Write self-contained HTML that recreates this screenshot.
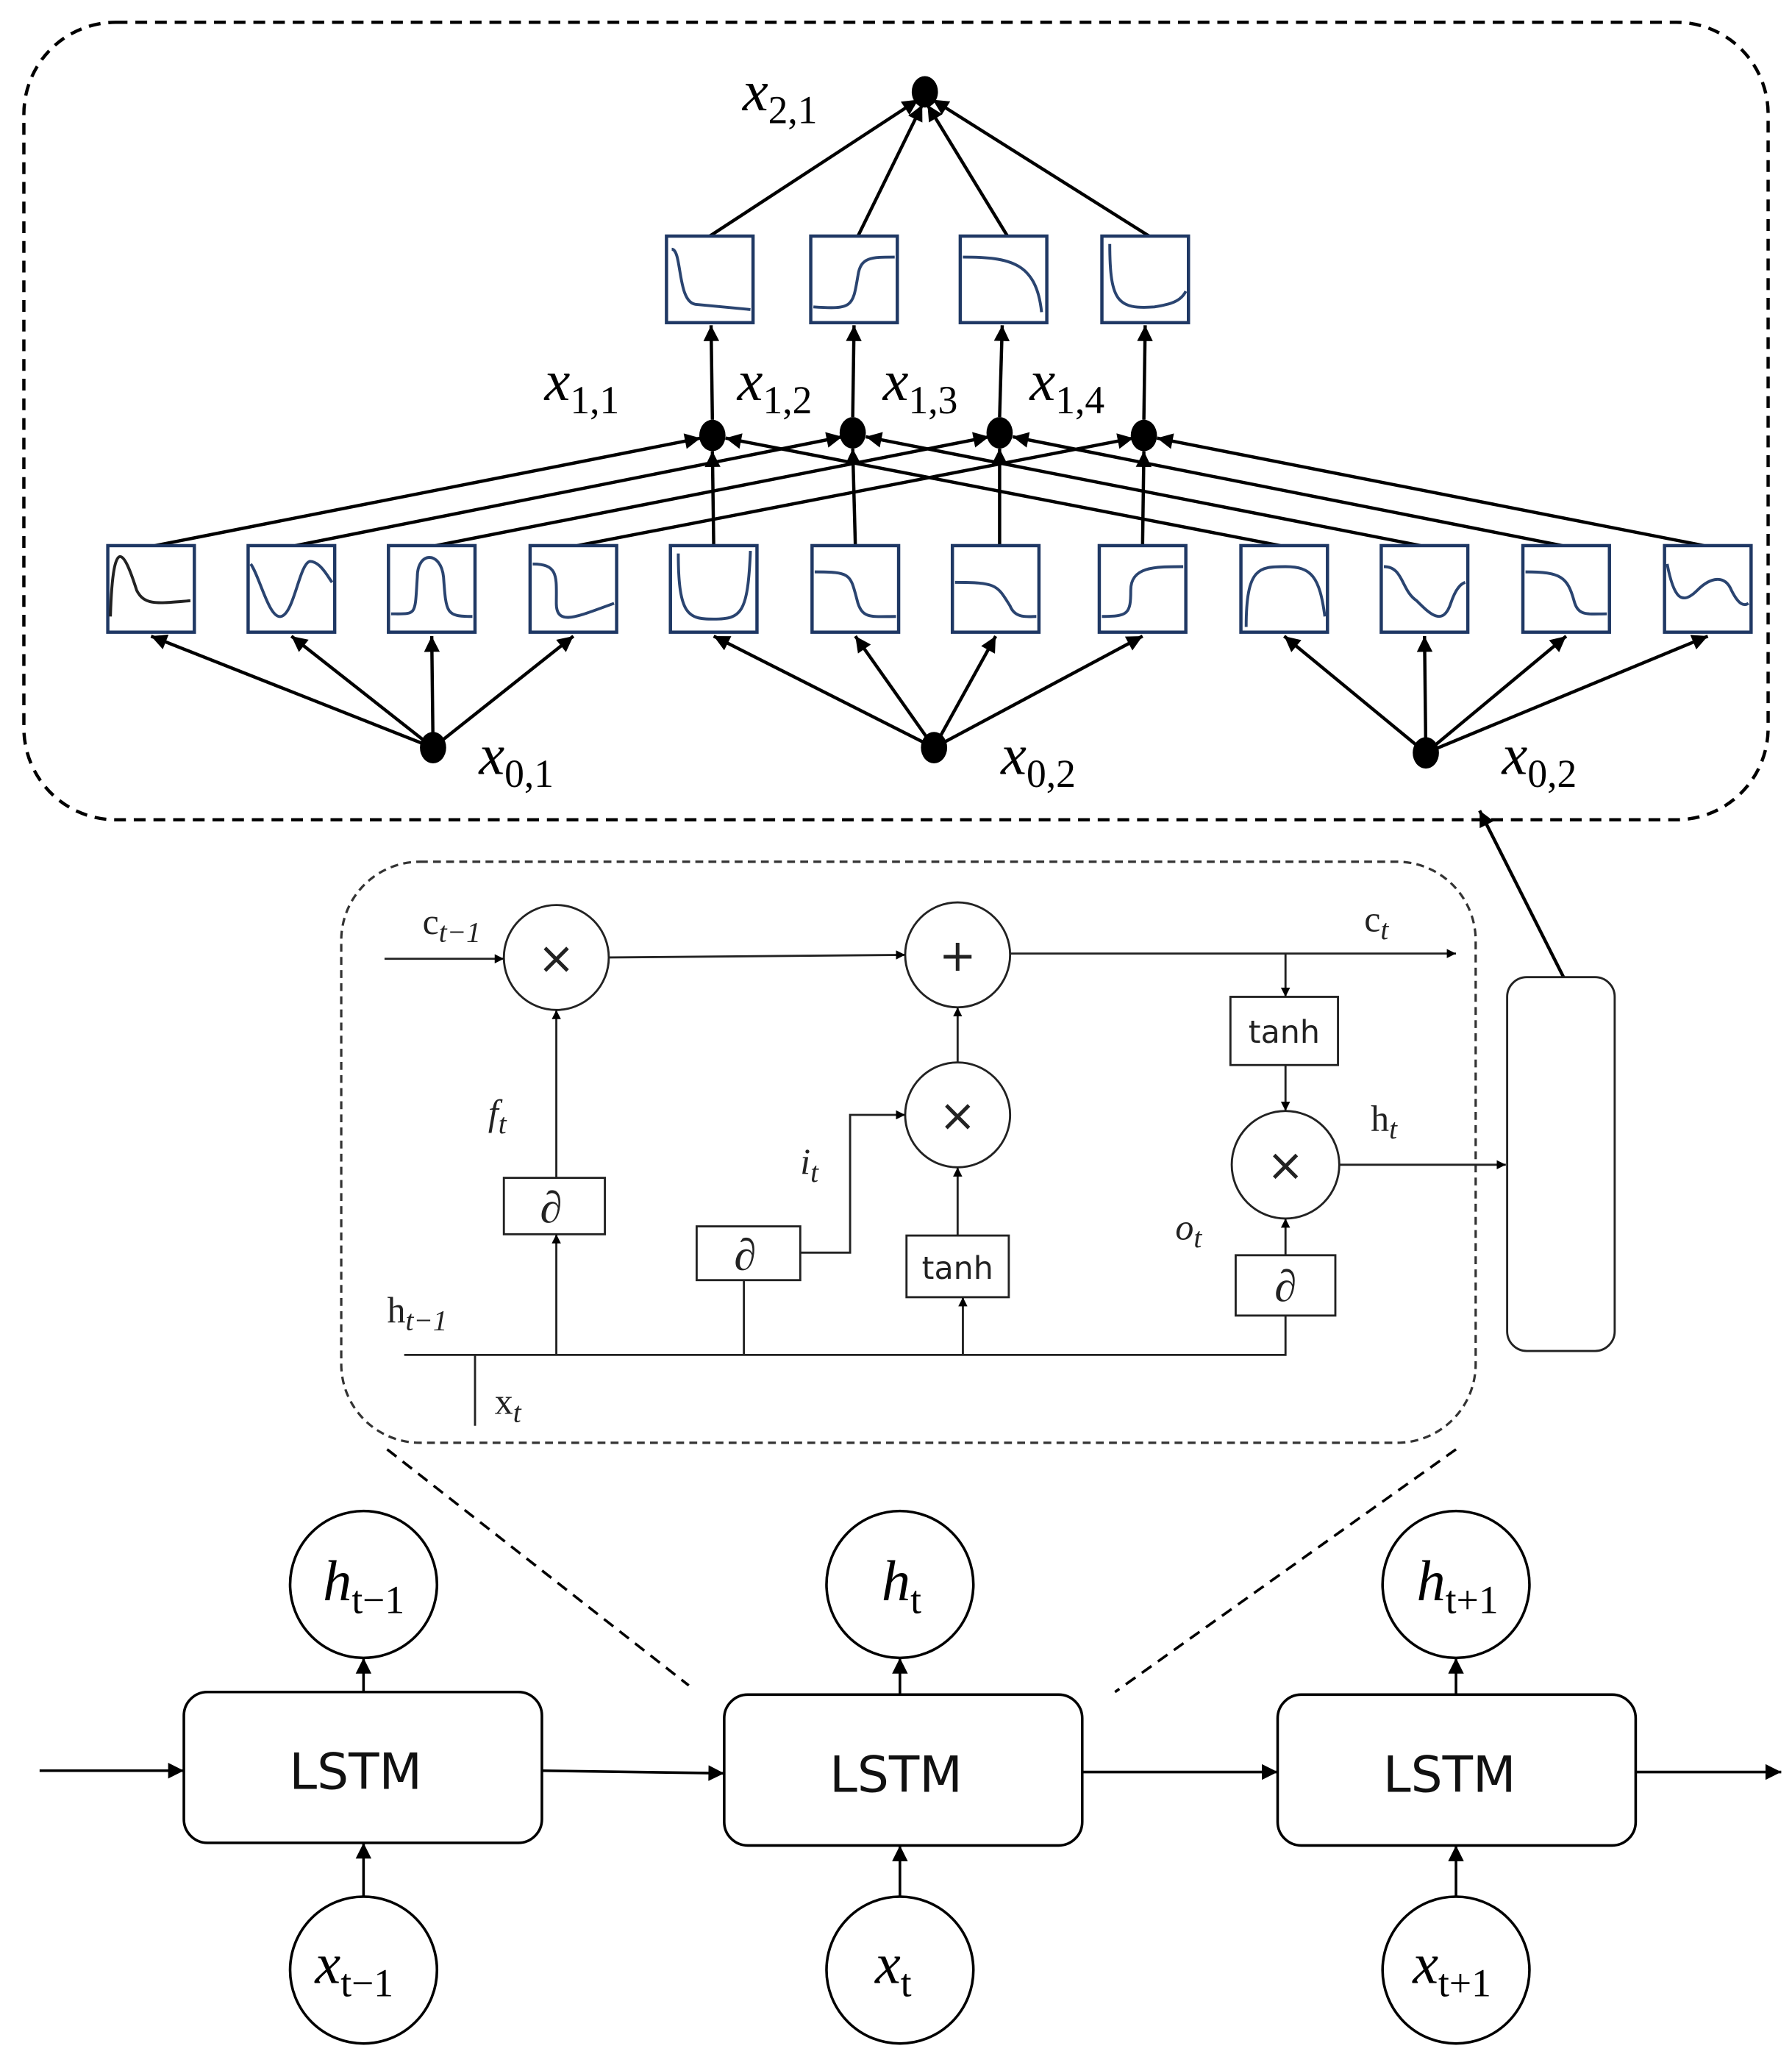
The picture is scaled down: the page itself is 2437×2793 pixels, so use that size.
<!DOCTYPE html>
<html><head><meta charset="utf-8"><style>
html,body{margin:0;padding:0;background:#fff;width:2437px;height:2793px;overflow:hidden}
svg{display:block}
.m{font-family:"Liberation Serif",serif;font-style:italic}
.s{font-family:"DejaVu Sans","Liberation Sans",sans-serif}
</style></head><body>
<svg width="2437" height="2793" viewBox="0 0 1366 1566" xmlns="http://www.w3.org/2000/svg">
<defs>
<marker id="a" viewBox="0 0 10 10" refX="10" refY="5" markerWidth="7" markerHeight="7" orient="auto" markerUnits="userSpaceOnUse"><path d="M0,0L10,5L0,10z" fill="#000"/></marker>
<marker id="b" viewBox="0 0 10 10" refX="10" refY="5" markerWidth="14" markerHeight="12" orient="auto" markerUnits="userSpaceOnUse"><path d="M0,0L10,5L0,10z" fill="#000"/></marker>
</defs>
<g fill="none" stroke="#000">
<rect x="18" y="17" width="1330" height="608" rx="70" stroke-width="2.5" stroke-dasharray="9,6"/>
<rect x="260" y="657" width="865" height="443" rx="60" stroke-width="1.8" stroke-dasharray="6,4" stroke="#333"/>
<!-- top arrows -->
<g stroke-width="2.5" marker-end="url(#b)">
<line x1="541" y1="180" x2="700" y2="76"/>
<line x1="654" y1="180" x2="703" y2="80"/>
<line x1="768" y1="180" x2="707" y2="80"/>
<line x1="876" y1="180" x2="711" y2="76"/>
<line x1="543" y1="320" x2="542" y2="248"/>
<line x1="650" y1="318" x2="651" y2="248"/>
<line x1="762" y1="318" x2="764" y2="248"/>
<line x1="872" y1="320" x2="873" y2="248"/>
<!-- bottom row to level1 -->
<line x1="118" y1="416" x2="534" y2="334"/>
<line x1="225" y1="416" x2="642" y2="333"/>
<line x1="332" y1="416" x2="754" y2="333"/>
<line x1="440" y1="416" x2="864" y2="334"/>
<line x1="544" y1="416" x2="543" y2="344"/>
<line x1="652" y1="416" x2="650" y2="342"/>
<line x1="762" y1="416" x2="762" y2="342"/>
<line x1="871" y1="416" x2="872" y2="344"/>
<line x1="976" y1="416" x2="553" y2="334"/>
<line x1="1083" y1="416" x2="660" y2="333"/>
<line x1="1191" y1="416" x2="772" y2="333"/>
<line x1="1299" y1="416" x2="882" y2="334"/>
<!-- inputs -->
<line x1="330" y1="570" x2="115" y2="485"/>
<line x1="330" y1="570" x2="222" y2="485"/>
<line x1="330" y1="570" x2="329" y2="485"/>
<line x1="330" y1="570" x2="437" y2="485"/>
<line x1="712" y1="570" x2="544" y2="485"/>
<line x1="712" y1="570" x2="652" y2="485"/>
<line x1="712" y1="570" x2="759" y2="485"/>
<line x1="712" y1="570" x2="871" y2="485"/>
<line x1="1087" y1="574" x2="979" y2="485"/>
<line x1="1087" y1="574" x2="1086" y2="485"/>
<line x1="1087" y1="574" x2="1194" y2="485"/>
<line x1="1087" y1="574" x2="1302" y2="485"/>
<line x1="1192" y1="745" x2="1128" y2="618"/>
</g>
</g>
<g fill="#000">
<ellipse cx="705" cy="70" rx="10" ry="12"/>
<ellipse cx="543" cy="332" rx="10" ry="12"/><ellipse cx="650" cy="330" rx="10" ry="12"/>
<ellipse cx="762" cy="330" rx="10" ry="12"/><ellipse cx="872" cy="332" rx="10" ry="12"/>
<ellipse cx="330" cy="570" rx="10" ry="12"/><ellipse cx="712" cy="570" rx="10" ry="12"/><ellipse cx="1087" cy="574" rx="10" ry="12"/>
</g>
<!-- function boxes -->
<g fill="#fff" stroke="#1f3864" stroke-width="2.5">
<rect x="508" y="180" width="66" height="66"/><rect x="618" y="180" width="66" height="66"/>
<rect x="732" y="180" width="66" height="66"/><rect x="840" y="180" width="66" height="66"/>
<rect x="82" y="416" width="66" height="66"/><rect x="189" y="416" width="66" height="66"/>
<rect x="296" y="416" width="66" height="66"/><rect x="404" y="416" width="66" height="66"/>
<rect x="511" y="416" width="66" height="66"/><rect x="619" y="416" width="66" height="66"/>
<rect x="726" y="416" width="66" height="66"/><rect x="838" y="416" width="66" height="66"/>
<rect x="946" y="416" width="66" height="66"/><rect x="1053" y="416" width="66" height="66"/>
<rect x="1161" y="416" width="66" height="66"/><rect x="1269" y="416" width="66" height="66"/>
</g>
<g fill="none" stroke="#2a4470" stroke-width="2.2">
<path d="M512,190 C520,190 516,230 530,232 L572,236"/>
<path d="M620,234 C650,236 650,234 654,210 C656,196 664,196 682,196"/>
<path d="M734,196 C770,196 790,200 794,238"/>
<path d="M846,186 C846,230 852,236 880,234 C892,232 900,230 904,222"/>
<path d="M84,470 C86,400 96,425 104,450 C110,462 120,460 145,458" stroke="#222"/>
<path d="M191,430 C198,440 205,472 214,470 C224,468 228,430 236,428 C244,428 250,440 253,444"/>
<path d="M298,468 C318,468 316,470 318,440 C318,420 336,420 338,440 C340,468 340,470 360,470"/>
<path d="M406,430 C426,430 424,440 424,460 C424,478 440,470 468,460"/>
<path d="M517,422 C517,470 525,472 544,472 C565,472 570,468 572,420"/>
<path d="M621,436 C650,436 648,438 654,460 C658,472 665,470 683,470"/>
<path d="M728,444 C760,444 760,446 770,462 C774,472 784,470 790,470"/>
<path d="M840,470 C860,470 862,468 862,450 C862,432 880,432 902,432"/>
<path d="M950,478 C950,432 960,432 980,432 C1000,432 1006,440 1010,470"/>
<path d="M1055,432 C1070,432 1068,450 1080,458 C1090,468 1100,478 1106,460 C1110,448 1114,445 1117,444"/>
<path d="M1163,436 C1190,436 1195,440 1200,458 C1203,470 1210,468 1225,468"/>
<path d="M1271,430 C1276,456 1282,462 1294,450 C1304,440 1315,438 1320,450 C1326,462 1330,462 1333,460"/>
</g>
<!-- labels top -->
<g class="m" font-size="44" fill="#000">
<text x="566" y="84">x<tspan font-size="30" dy="10" font-style="normal">2,1</tspan></text>
<text x="415" y="305">x<tspan font-size="30" dy="10" font-style="normal">1,1</tspan></text>
<text x="562" y="305">x<tspan font-size="30" dy="10" font-style="normal">1,2</tspan></text>
<text x="673" y="305">x<tspan font-size="30" dy="10" font-style="normal">1,3</tspan></text>
<text x="785" y="305">x<tspan font-size="30" dy="10" font-style="normal">1,4</tspan></text>
<text x="365" y="590">x<tspan font-size="30" dy="10" font-style="normal">0,1</tspan></text>
<text x="763" y="590">x<tspan font-size="30" dy="10" font-style="normal">0,2</tspan></text>
<text x="1145" y="590">x<tspan font-size="30" dy="10" font-style="normal">0,2</tspan></text>
</g>
<!-- LSTM cell -->
<g fill="none" stroke="#222" stroke-width="1.6">
<circle cx="424" cy="730" r="40"/><circle cx="730" cy="728" r="40"/>
<circle cx="730" cy="850" r="40"/><circle cx="980" cy="888" r="41"/>
<rect x="938" y="760" width="82" height="52"/><rect x="942" y="957" width="76" height="46"/>
<rect x="384" y="898" width="77" height="43"/><rect x="531" y="935" width="79" height="41"/>
<rect x="691" y="942" width="78" height="47"/>
<rect x="1149" y="745" width="82" height="285" rx="15"/>
<g marker-end="url(#a)">
<line x1="293" y1="731" x2="384" y2="731"/>
<line x1="464" y1="730" x2="690" y2="728"/>
<line x1="770" y1="727" x2="1110" y2="727"/>
<line x1="980" y1="727" x2="980" y2="760"/>
<line x1="980" y1="812" x2="980" y2="847"/>
<line x1="1021" y1="888" x2="1148" y2="888"/>
<line x1="980" y1="957" x2="980" y2="929"/>
<line x1="424" y1="898" x2="424" y2="770"/>
<line x1="424" y1="1033" x2="424" y2="941"/>
<polyline points="610,955 648,955 648,850 690,850"/>
<line x1="734" y1="1033" x2="734" y2="989"/>
<line x1="730" y1="942" x2="730" y2="890"/>
<line x1="730" y1="810" x2="730" y2="768"/>
</g>
<polyline points="308,1033 980,1033 980,1003"/>
<line x1="567" y1="1033" x2="567" y2="976"/>
<line x1="362" y1="1033" x2="362" y2="1087"/>
</g>
<g class="s" font-size="34" fill="#222" text-anchor="middle">
<text x="424" y="742">×</text><text x="730" y="740">+</text>
<text x="730" y="862">×</text><text x="980" y="900">×</text>
</g>
<g class="s" font-size="24" fill="#222" text-anchor="middle">
<text x="979" y="795">tanh</text><text x="730" y="975">tanh</text>
</g>
<g class="m" font-size="34" fill="#222" text-anchor="middle">
<text x="420" y="932">∂</text><text x="568" y="968">∂</text><text x="980" y="992">∂</text>
</g>
<g font-family="Liberation Serif,serif" font-size="28" fill="#222">
<text x="322" y="712">c<tspan class="m" font-size="22" dy="6">t−1</tspan></text>
<text x="1040" y="710">c<tspan class="m" font-size="22" dy="6">t</tspan></text>
<text x="1045" y="862">h<tspan class="m" font-size="22" dy="6">t</tspan></text>
<text x="295" y="1008">h<tspan class="m" font-size="22" dy="6">t−1</tspan></text>
<text x="377" y="1078">x<tspan class="m" font-size="22" dy="6">t</tspan></text>
<text class="m" x="372" y="858">f<tspan font-size="22" dy="6">t</tspan></text>
<text class="m" x="610" y="895">i<tspan font-size="22" dy="6">t</tspan></text>
<text class="m" x="896" y="945">o<tspan font-size="22" dy="6">t</tspan></text>
</g>
<g stroke="#000" stroke-width="2" stroke-dasharray="9,6">
<line x1="295" y1="1105" x2="525" y2="1285"/><line x1="1110" y1="1105" x2="850" y2="1290"/>
</g>
<!-- bottom chain -->
<g fill="none" stroke="#000" stroke-width="2">
<rect x="140" y="1290" width="273" height="115" rx="18"/>
<rect x="552" y="1292" width="273" height="115" rx="18"/>
<rect x="974" y="1292" width="273" height="115" rx="18"/>
<circle cx="277" cy="1208" r="56"/><circle cx="686" cy="1208" r="56"/><circle cx="1110" cy="1208" r="56"/>
<circle cx="277" cy="1502" r="56"/><circle cx="686" cy="1502" r="56"/><circle cx="1110" cy="1502" r="56"/>
<g marker-end="url(#b)">
<line x1="30" y1="1350" x2="140" y2="1350"/>
<line x1="413" y1="1350" x2="552" y2="1352"/>
<line x1="825" y1="1351" x2="974" y2="1351"/>
<line x1="1247" y1="1351" x2="1358" y2="1351"/>
<line x1="277" y1="1290" x2="277" y2="1264"/>
<line x1="686" y1="1292" x2="686" y2="1264"/>
<line x1="1110" y1="1292" x2="1110" y2="1264"/>
<line x1="277" y1="1446" x2="277" y2="1405"/>
<line x1="686" y1="1446" x2="686" y2="1407"/>
<line x1="1110" y1="1446" x2="1110" y2="1407"/>
</g>
</g>
<g class="s" font-size="38" fill="#111" text-anchor="middle">
<text x="271" y="1364">LSTM</text><text x="683" y="1366">LSTM</text><text x="1105" y="1366">LSTM</text>
</g>
<g class="m" font-size="44" fill="#000">
<text x="246" y="1220">h<tspan font-size="30" dy="10" font-style="normal">t−1</tspan></text>
<text x="672" y="1220">h<tspan font-size="30" dy="10" font-style="normal">t</tspan></text>
<text x="1080" y="1220">h<tspan font-size="30" dy="10" font-style="normal">t+1</tspan></text>
<text x="240" y="1512">x<tspan font-size="30" dy="10" font-style="normal">t−1</tspan></text>
<text x="667" y="1512">x<tspan font-size="30" dy="10" font-style="normal">t</tspan></text>
<text x="1077" y="1512">x<tspan font-size="30" dy="10" font-style="normal">t+1</tspan></text>
</g>
</svg>
</body></html>
